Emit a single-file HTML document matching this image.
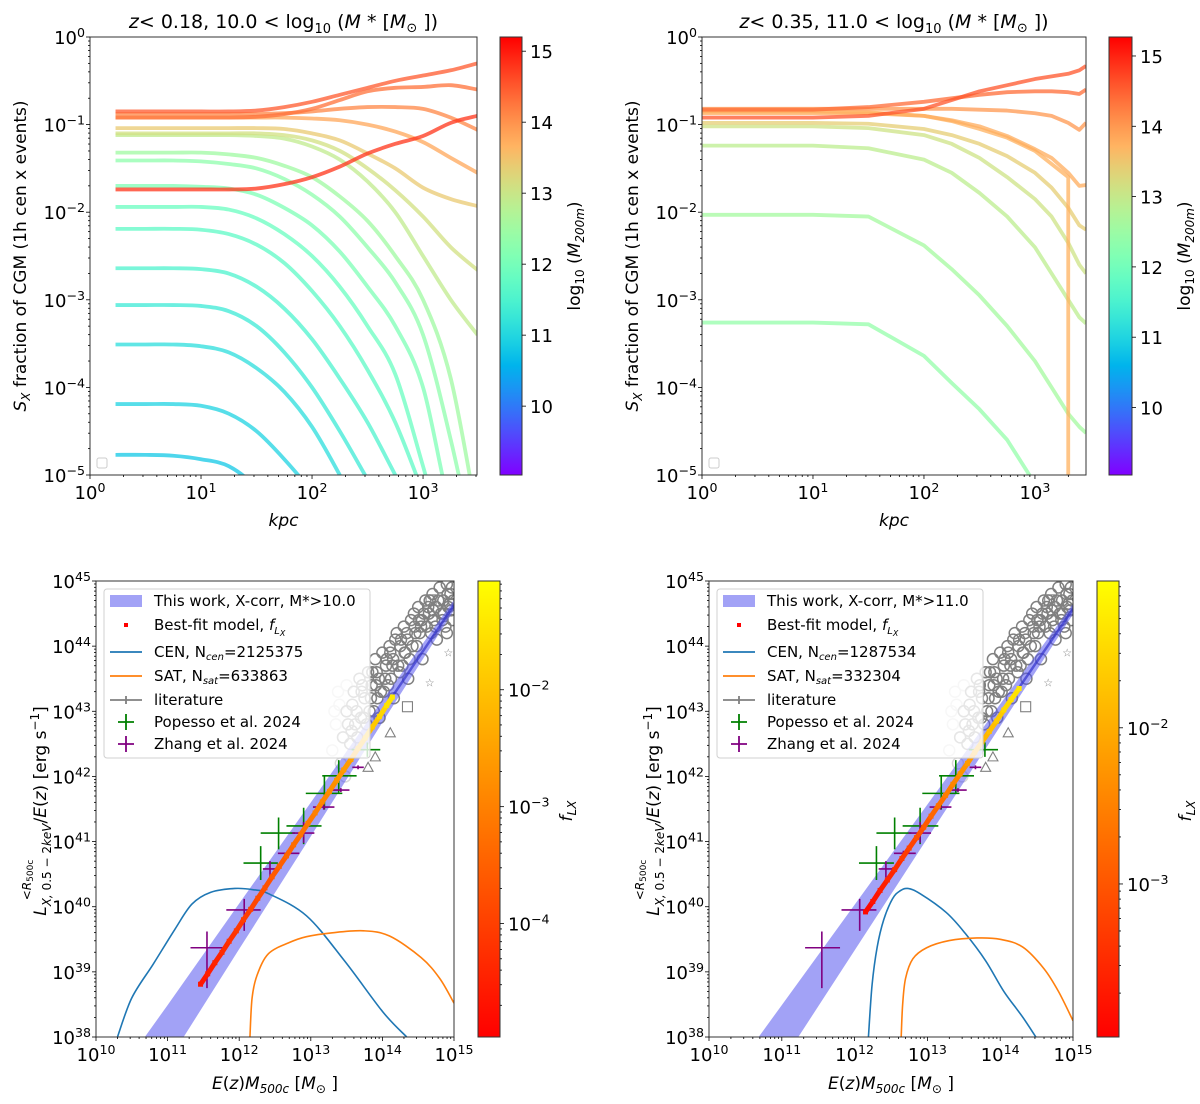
<!DOCTYPE html>
<html><head><meta charset="utf-8"><style>
html,body{margin:0;padding:0;background:#fff;}
svg{display:block;font-family:"DejaVu Sans","Liberation Sans",sans-serif;}
</style></head><body>
<svg id="fig" width="1200" height="1104" viewBox="0 0 1200 1104" xmlns="http://www.w3.org/2000/svg">
<defs>
<clipPath id="c-tl"><rect x="90" y="37" width="387" height="438"/></clipPath>
<clipPath id="c-tr"><rect x="702" y="37" width="384" height="438"/></clipPath>
<clipPath id="c-bl"><rect x="96" y="581" width="358" height="456"/></clipPath>
<clipPath id="c-br"><rect x="709" y="581" width="364" height="456"/></clipPath>
</defs>
</svg>
<script>
// ---------- TOP-LEFT data (log10 kpc grid, log10 fraction) ----------
const tlX = [0.23,0.5,0.75,1.0,1.25,1.5,1.75,2.0,2.25,2.5,2.75,3.0,3.25,3.49];
const tlMass = [10.8,10.95,11.1,11.3,11.5,11.7,11.85,12.1,12.3,12.5,12.9,13.1,13.4,13.8,14.1,14.3,14.5,14.8];
const tlY = [
 [-4.77,-4.77,-4.78,-4.82,-4.9,-5.15,-5.6,-6,-6,-6,-6,-6,-6,-6],
 [-4.19,-4.19,-4.19,-4.21,-4.3,-4.5,-4.82,-5.2,-5.7,-6,-6,-6,-6,-6],
 [-3.51,-3.51,-3.51,-3.53,-3.6,-3.78,-4.05,-4.45,-5.0,-5.6,-6,-6,-6,-6],
 [-3.06,-3.06,-3.06,-3.07,-3.13,-3.3,-3.6,-4.0,-4.5,-5.05,-5.6,-6,-6,-6],
 [-2.64,-2.64,-2.64,-2.65,-2.7,-2.85,-3.1,-3.45,-3.9,-4.4,-5.0,-5.6,-6,-6],
 [-2.19,-2.19,-2.19,-2.2,-2.25,-2.37,-2.58,-2.9,-3.3,-3.8,-4.4,-5.2,-6,-6],
 [-1.94,-1.94,-1.94,-1.94,-1.97,-2.07,-2.25,-2.5,-2.85,-3.3,-3.85,-4.9,-6,-6],
 [-1.70,-1.70,-1.70,-1.71,-1.73,-1.8,-1.95,-2.15,-2.45,-2.85,-3.3,-4.0,-5.4,-6],
 [-1.41,-1.41,-1.41,-1.42,-1.45,-1.5,-1.62,-1.8,-2.05,-2.4,-2.8,-3.4,-4.6,-6],
 [-1.32,-1.32,-1.32,-1.32,-1.34,-1.38,-1.47,-1.6,-1.82,-2.1,-2.5,-3.0,-3.9,-5.5],
 [-1.12,-1.12,-1.12,-1.12,-1.12,-1.13,-1.16,-1.25,-1.4,-1.65,-2.0,-2.5,-3.0,-3.4],
 [-1.10,-1.10,-1.10,-1.10,-1.10,-1.10,-1.12,-1.18,-1.3,-1.5,-1.75,-2.05,-2.4,-2.66],
 [-1.04,-1.04,-1.04,-1.04,-1.04,-1.04,-1.05,-1.1,-1.18,-1.33,-1.5,-1.72,-1.85,-1.93],
 [-0.92,-0.92,-0.92,-0.92,-0.92,-0.92,-0.92,-0.93,-0.95,-1.0,-1.08,-1.2,-1.38,-1.55],
 [-0.88,-0.88,-0.88,-0.88,-0.88,-0.88,-0.87,-0.85,-0.82,-0.8,-0.8,-0.82,-0.92,-1.06],
 [-0.92,-0.92,-0.92,-0.92,-0.92,-0.91,-0.88,-0.82,-0.72,-0.62,-0.58,-0.57,-0.55,-0.6],
 [-0.85,-0.85,-0.85,-0.85,-0.85,-0.84,-0.8,-0.74,-0.66,-0.58,-0.5,-0.44,-0.38,-0.3],
 [-1.74,-1.74,-1.74,-1.74,-1.74,-1.73,-1.68,-1.6,-1.48,-1.33,-1.22,-1.13,-0.98,-0.9]
];
// ---------- TOP-RIGHT data ----------
const trX = [0,0.5,1.0,1.5,2.0,2.25,2.5,2.75,3.0,3.15,3.3,3.3,3.4,3.46];
const trMass = [12.4,12.6,12.9,13.1,13.4,13.75,13.8,14.0,14.4,14.6];
const trY = [
 [-3.26,-3.26,-3.26,-3.28,-3.64,-3.95,-4.25,-4.6,-5.1,-5.5,-6,-6,-6,-6],
 [-2.03,-2.03,-2.03,-2.05,-2.38,-2.65,-2.95,-3.3,-3.7,-4.0,-4.3,-4.3,-4.45,-4.52],
 [-1.24,-1.24,-1.24,-1.27,-1.4,-1.55,-1.78,-2.05,-2.4,-2.7,-3.0,-3.0,-3.2,-3.27],
 [-1.02,-1.02,-1.02,-1.04,-1.12,-1.22,-1.38,-1.6,-1.85,-2.05,-2.35,-2.35,-2.6,-2.7],
 [-0.98,-0.98,-0.98,-0.99,-1.05,-1.12,-1.22,-1.36,-1.55,-1.72,-1.95,-1.95,-2.15,-2.2],
 [-0.85,-0.85,-0.85,-0.86,-0.9,-0.96,-1.05,-1.15,-1.3,-1.45,-1.6,-9,null,null],
 [-0.87,-0.87,-0.87,-0.87,-0.9,-0.95,-1.02,-1.13,-1.28,-1.38,-1.55,-1.55,-1.7,-1.69],
 [-0.82,-0.82,-0.82,-0.82,-0.82,-0.82,-0.83,-0.84,-0.87,-0.9,-0.98,-0.98,-1.06,-0.98],
 [-0.83,-0.83,-0.83,-0.8,-0.74,-0.7,-0.66,-0.63,-0.62,-0.62,-0.63,-0.63,-0.65,-0.6],
 [-0.92,-0.92,-0.92,-0.9,-0.82,-0.72,-0.62,-0.55,-0.48,-0.45,-0.42,-0.42,-0.38,-0.33]
];
// ---------- BOTTOM-LEFT data (log10 M, log10 L) ----------
const bandX = [10.5,11,12,13,14,15];
const blBandLo = [36.74,37.61,39.35,41.08,42.83,44.55];
const blBandHi = [37.72,38.49,40.05,41.6,43.17,44.71];
const blFitX = [11.46,11.56,11.66,11.76,11.86,11.96,12.06,12.16,12.26,12.36,12.46,12.56,12.66,12.76,12.86,12.96,13.06,13.16,13.26,13.36,13.46,13.56,13.66,13.76,13.86,13.96,14.06,14.14];
const blFitY = [38.81,38.97,39.14,39.30,39.47,39.63,39.80,39.96,40.13,40.29,40.46,40.62,40.78,40.95,41.11,41.28,41.44,41.61,41.77,41.94,42.10,42.26,42.43,42.59,42.76,42.92,43.09,43.22];
const blFitF = [-4.6,-4.5,-4.4,-4.3,-4.2,-4.1,-4.0,-3.9,-3.8,-3.7,-3.6,-3.5,-3.4,-3.3,-3.2,-3.1,-3.0,-2.9,-2.8,-2.7,-2.6,-2.5,-2.3,-2.1,-1.9,-1.7,-1.5,-1.4];
const blCenX = [10.30,10.5,10.8,11.1,11.34,11.6,11.94,12.2,12.41,12.94,13.47,14.01,14.34];
const blCenY = [38,38.6,39.12,39.65,40.04,40.22,40.28,40.26,40.2,39.86,39.17,38.38,38.0];
const blSatX = [12.15,12.18,12.25,12.41,12.7,12.94,13.3,13.74,14.1,14.54,14.8,15.0];
const blSatY = [38,38.6,38.95,39.28,39.45,39.54,39.6,39.63,39.55,39.22,38.9,38.52];
// ---------- BOTTOM-RIGHT data ----------
const brBandLo = [36.74,37.61,39.33,41.05,42.77,44.49];
const brBandHi = [37.72,38.49,40.03,41.57,43.11,44.65];
const brFitX = [12.15,12.25,12.35,12.45,12.55,12.65,12.75,12.85,12.95,13.05,13.15,13.25,13.35,13.45,13.55,13.65,13.75,13.85,13.95,14.05,14.15,14.26];
const brFitY = [39.92,40.08,40.25,40.41,40.57,40.74,40.90,41.06,41.22,41.39,41.55,41.71,41.88,42.04,42.20,42.37,42.53,42.69,42.85,43.02,43.18,43.35];
const brFitF = [-3.85,-3.75,-3.65,-3.55,-3.45,-3.3,-3.2,-3.05,-2.95,-2.8,-2.7,-2.55,-2.45,-2.3,-2.2,-2.05,-1.9,-1.8,-1.65,-1.5,-1.4,-1.3];
const brCenX = [12.19,12.24,12.31,12.4,12.52,12.62,12.73,12.9,13.26,13.52,13.8,14.05,14.3,14.49];
const brCenY = [38,38.8,39.38,39.8,40.12,40.24,40.28,40.2,39.91,39.59,39.17,38.70,38.32,38.0];
const brSatX = [12.64,12.66,12.7,12.8,12.99,13.3,13.68,14.0,14.31,14.6,14.8,15.0];
const brSatY = [38,38.5,38.9,39.2,39.37,39.48,39.52,39.5,39.38,39.05,38.7,38.25];
// ---------- observational points (shared) ----------
const popX = [12.30,12.55,12.90,13.19,13.39,13.79];
const popXlo = [12.06,12.30,12.66,12.93,13.16,13.57];
const popXhi = [12.54,12.78,13.15,13.44,13.64,13.97];
const popY = [40.67,41.13,41.24,41.74,42.01,42.41];
const popYlo = [40.41,40.88,40.96,41.49,41.75,42.30];
const popYhi = [40.93,41.37,41.52,42.01,42.25,42.52];
const zhX = [11.55,12.07,12.43,12.67,12.90,13.18,13.42,13.66];
const zhXlo = [11.32,11.82,12.33,12.54,12.74,13.03,13.30,13.58];
const zhXhi = [11.80,12.30,12.54,12.84,13.05,13.33,13.54,13.74];
const zhY = [39.37,39.95,40.58,40.82,41.13,41.53,41.79,42.14];
const zhYlo = [38.75,39.63,40.45,40.78,40.98,41.49,41.76,42.11];
const zhYhi = [39.62,40.12,40.70,40.86,41.30,41.57,41.82,42.17];
const litX = [13.45,13.5,13.55,13.6,13.62,13.68,13.7,13.75,13.8,13.82,13.85,13.9,13.93,13.95,14.0,14.02,14.05,14.1,14.12,14.15,14.2,14.22,14.25,14.3,14.32,14.35,14.4,14.42,14.45,14.5,14.52,14.55,14.6,14.62,14.65,14.7,14.72,14.75,14.8,14.82,14.85,14.9,14.92,14.95,14.98,13.65,13.78,13.88,14.08,14.28,14.48,14.68,14.88,14.9,14.96,14.76,14.56,14.36,14.16,13.96,
 13.52,13.58,13.64,13.72,13.84,13.92,13.98,14.04,14.14,14.18,14.24,14.34,14.38,14.44,14.54,14.58,14.64,14.74,14.78,14.84,14.94,14.97,13.74,13.86,14.06,14.26,14.46,14.66,14.86,14.99,13.57,13.71,13.91,14.11,14.31,14.51,14.71,14.91];
const litY = [42.6,43.0,42.5,43.3,42.8,43.5,42.9,43.2,43.6,43.0,43.4,43.8,43.2,43.5,43.9,43.3,43.7,44.0,43.5,43.8,44.2,43.7,44.0,44.3,43.9,44.1,44.4,44.0,44.3,44.6,44.2,44.4,44.7,44.3,44.5,44.8,44.4,44.6,44.9,44.5,44.7,44.95,44.6,44.8,44.4,42.6,42.8,43.0,43.4,43.7,44.0,44.2,44.3,44.2,44.55,44.1,43.8,43.5,43.2,42.9,
 42.8,43.1,43.0,43.4,43.2,43.6,43.3,43.5,43.7,44.1,43.6,44.2,43.8,44.5,44.3,44.5,44.6,44.3,44.7,44.4,44.65,44.9,42.9,43.6,43.8,44.1,44.2,44.7,44.5,44.7,42.7,43.3,43.4,43.9,43.9,44.4,44.55,44.8];
const litFadeX = [13.3,13.35,13.4,13.45,13.5,13.38,13.42,13.33,13.48];
const litFadeY = [42.4,42.8,43.1,42.6,43.4,43.3,42.2,43.0,42.0];
const litTriX = [14.11,13.8,13.9], litTriY = [42.67,42.14,42.3];
const litSqX = [14.35,14.68], litSqY = [43.07,44.71];
const litStarX = [14.66,14.92], litStarY = [43.44,43.9];

// ---------- helpers ----------
const NS = 'http://www.w3.org/2000/svg';
const svg = document.getElementById('fig');
function mk(tag, attrs, parent){ const e=document.createElementNS(NS,tag); for(const k in attrs) e.setAttribute(k,attrs[k]); (parent||svg).appendChild(e); return e; }
function rainbow(t){ t=Math.max(0,Math.min(1,t)); const r=Math.min(1,Math.abs(2*t-0.5)), g=Math.sin(Math.PI*t), b=Math.cos(Math.PI*t/2); return `rgb(${Math.round(r*255)},${Math.round(g*255)},${Math.round(b*255)})`; }
function autumn(t){ t=Math.max(0,Math.min(1,t)); return `rgb(255,${Math.round(t*255)},0)`; }
function scaler(a0,a1,p0,p1){ return v=>p0+(v-a0)/(a1-a0)*(p1-p0); }
function supText(parent,x,y,base,exp,anchor,size){
  const t=mk('text',{x:x,y:y,'font-size':size||16,'text-anchor':anchor||'middle',fill:'#000'},parent);
  t.appendChild(document.createTextNode(base));
  const s=mk('tspan',{dy:-7,'font-size':(size||16)*0.7},t); s.textContent=exp; return t;
}
function axes(P){
  const g=mk('g',{});
  
  
  mk('rect',{x:P.x0,y:P.y0,width:P.x1-P.x0,height:P.y1-P.y0,fill:'none',stroke:'#333',"stroke-width":1},g);
  for(let d=Math.floor(P.xmin); d<=Math.ceil(P.xmax); d++){
    for(let k=1;k<10;k++){ const v=d+Math.log10(k); if(v<P.xmin-1e-6||v>P.xmax+1e-6) continue;
      const X=P.sx(v); mk('line',{x1:X,x2:X,y1:P.y1,y2:P.y1+(k==1?4:2),stroke:'#000','stroke-width':0.8},g);
      if(k==1){ const t=supText(g,X,P.y1+24,'10',String(d).replace('-','−'),'middle',18);
          } }
  }
  for(let d=Math.floor(P.ymin); d<=Math.ceil(P.ymax); d++){
    for(let k=1;k<10;k++){ const v=d+Math.log10(k); if(v<P.ymin-1e-6||v>P.ymax+1e-6) continue;
      const Y=P.sy(v); mk('line',{x1:P.x0,x2:P.x0-(k==1?4:2),y1:Y,y2:Y,stroke:'#000','stroke-width':0.8},g);
      if(k==1){ const t=supText(g,P.x0-5,Y+7,'10',String(d).replace('-','−'),'end',18);
          } }
  }
}
function path(pts){ let s='',pen=false; for(const p of pts){ if(p==null){pen=false;continue;} s+=(pen?'L':'M')+p[0].toFixed(2)+' '+p[1].toFixed(2); pen=true;} return s; }
function smooth(pts){ // Catmull-Rom through the data points
  let s='M'+pts[0][0].toFixed(2)+' '+pts[0][1].toFixed(2);
  for(let i=0;i<pts.length-1;i++){
    const p0=pts[Math.max(0,i-1)],p1=pts[i],p2=pts[i+1],p3=pts[Math.min(pts.length-1,i+2)];
    const c1=[p1[0]+(p2[0]-p0[0])/6,p1[1]+(p2[1]-p0[1])/6], c2=[p2[0]-(p3[0]-p1[0])/6,p2[1]-(p3[1]-p1[1])/6];
    s+=`C${c1[0].toFixed(2)} ${c1[1].toFixed(2)} ${c2[0].toFixed(2)} ${c2[1].toFixed(2)} ${p2[0].toFixed(2)} ${p2[1].toFixed(2)}`;
  } return s;
}

// ---------- top panels ----------
function topPanel(P, X, Ys, M, cb, title1, title2){
  P.sx=scaler(P.xmin,P.xmax,P.x0,P.x1); P.sy=scaler(P.ymin,P.ymax,P.y1,P.y0);
  const g=mk('g',{'clip-path':`url(#${P.clip})`});
  
  
  Ys.forEach((ys,i)=>{
    const pts=X.map((x,j)=> ys[j]==null?null:[P.sx(x),P.sy(ys[j])]);
    const hasDup=X.some((x,j)=>j>0&&X[j-1]===x);
    const d=hasDup?path(pts):smooth(pts.filter(p=>p));
    const e=mk('path',{d:d,fill:'none',stroke:rainbow((M[i]-cb.vmin)/(cb.vmax-cb.vmin)),'stroke-width':3.8,'stroke-opacity':0.75,'stroke-linejoin':'round'},g);
    
    
  });
  axes(P);
  const lg=mk('rect',{x:P.x0+7,y:P.y1-17,width:10,height:10,rx:2,fill:'#fff',stroke:'#ccc'});
  
  
  const t=mk('text',{x:(P.x0+P.x1)/2,y:28,'font-size':19,'text-anchor':'middle'});
  
  
  t.innerHTML=`<tspan font-style="italic">z</tspan>&lt; ${title1}, ${title2} &lt; log<tspan font-size="13" dy="5">10</tspan><tspan dy="-5"> (</tspan><tspan font-style="italic">M</tspan> * [<tspan font-style="italic">M</tspan><tspan font-size="13" dy="4">⊙</tspan><tspan dy="-4"> ])</tspan>`;
  const yl=mk('text',{transform:`translate(${P.x0-64},256) rotate(-90)`,'font-size':17,'text-anchor':'middle'});
  
  
  yl.innerHTML='<tspan font-style="italic">S</tspan><tspan font-size="12" dy="4" font-style="italic">X</tspan><tspan dy="-4"> fraction of CGM (1h cen x events)</tspan>';
  const xl=mk('text',{x:(P.x0+P.x1)/2,y:526,'font-size':17,'text-anchor':'middle','font-style':'italic'});
  
  
  xl.textContent='kpc';
  const gid='grad-'+P.name;
  const lgd=mk('linearGradient',{id:gid,x1:0,y1:1,x2:0,y2:0},svg.querySelector('defs'));
  for(let i=0;i<=20;i++) mk('stop',{offset:i/20,'stop-color':rainbow(i/20)},lgd);
  const cbr=mk('rect',{x:cb.x0,y:P.y0,width:cb.x1-cb.x0,height:P.y1-P.y0,fill:`url(#${gid})`,stroke:'#333','stroke-width':1});
  
  
  const cs=scaler(cb.vmin,cb.vmax,P.y1,P.y0);
  for(let v=10; v<=15; v++){ const Y=cs(v);
    mk('line',{x1:cb.x1,x2:cb.x1+4,y1:Y,y2:Y,stroke:'#000','stroke-width':0.8});
    const tl=mk('text',{x:cb.x1+8,y:Y+7,'font-size':18}); tl.textContent=v;
    
     }
  const cl=mk('text',{transform:`translate(${cb.x1+58},256) rotate(-90)`,'font-size':17,'text-anchor':'middle'});
  
  
  cl.innerHTML='log<tspan font-size="12" dy="4">10</tspan><tspan dy="-4"> (</tspan><tspan font-style="italic">M</tspan><tspan font-size="12" dy="4" font-style="italic">200m</tspan><tspan dy="-4">)</tspan>';
}
topPanel({name:'top-left',x0:90,x1:477,y0:37,y1:475,xmin:0,xmax:3.486,ymin:-5,ymax:0,clip:'c-tl'},tlX,tlY,tlMass,{x0:500,x1:522,vmin:9.03,vmax:15.2},'0.18','10.0');
topPanel({name:'top-right',x0:702,x1:1086,y0:37,y1:475,xmin:0,xmax:3.46,ymin:-5,ymax:0,clip:'c-tr'},trX,trY,trMass,{x0:1109,x1:1132,vmin:9.04,vmax:15.27},'0.35','11.0');

// ---------- bottom panels ----------
function botPanel(P, D, cb, mstar, ncen, nsat){
  P.sx=scaler(P.xmin,P.xmax,P.x0,P.x1); P.sy=scaler(P.ymin,P.ymax,P.y1,P.y0);
  const sx=P.sx, sy=P.sy;
  const g=mk('g',{'clip-path':`url(#${P.clip})`});
  
  
  const lit=mk('g',{fill:'none',stroke:'#808080','stroke-width':1.5},g);
  
  
  litFadeX.forEach((x,i)=>{ const c=mk('circle',{cx:sx(x),cy:sy(litFadeY[i]),r:5.5,stroke:'#d8d8d8'},lit);
    
     });
  litX.forEach((x,i)=>{ const c=mk('circle',{cx:sx(x),cy:sy(litY[i]),r:5.5},lit);
    
     });
  litTriX.forEach((x,i)=>{ const X=sx(x),Y=sy(litTriY[i]); const c=mk('path',{d:`M${X} ${Y-5}L${X+5} ${Y+4}L${X-5} ${Y+4}Z`,'stroke-width':1.1},lit);
    
     });
  litSqX.forEach((x,i)=>{ const c=mk('rect',{x:sx(x)-5,y:sy(litSqY[i])-5,width:10,height:10,'stroke-width':1.1},lit);
    
     });
  litStarX.forEach((x,i)=>{ const c=mk('text',{x:sx(x),y:sy(litStarY[i])+4,'font-size':11,'text-anchor':'middle',fill:'#808080',stroke:'none'},lit);
    c.textContent='☆';
    
     });
  const up=bandX.map((x,i)=>[sx(x),sy(D.hi[i])]), lo=bandX.map((x,i)=>[sx(x),sy(D.lo[i])]).reverse();
  const band=mk('path',{d:path(up.concat(lo))+'Z',fill:'#5555ee','fill-opacity':0.55,stroke:'none'},g);
  
  
  const bl=mk('path',{d:path(bandX.slice(3).map((x,i)=>[sx(x),sy((D.hi[i+3]+D.lo[i+3])/2)])),stroke:'#3333cc','stroke-width':2.5,'stroke-opacity':0.7,fill:'none'},g);
  
  
  const cen=mk('path',{d:smooth(D.cenX.map((x,i)=>[sx(x),sy(D.cenY[i])])),stroke:'#1f77b4','stroke-width':1.6,fill:'none'},g);
  
  
  const sat=mk('path',{d:smooth(D.satX.map((x,i)=>[sx(x),sy(D.satY[i])])),stroke:'#ff7f0e','stroke-width':1.6,fill:'none'},g);
  
  
  function crosses(X,Xlo,Xhi,Y,Ylo,Yhi,col,name){
    X.forEach((x,i)=>{ const c=mk('path',{d:`M${sx(Xlo[i])} ${sy(Y[i])}H${sx(Xhi[i])}M${sx(x)} ${sy(Ylo[i])}V${sy(Yhi[i])}`,stroke:col,'stroke-width':1.6,fill:'none'},g);
      
       });
  }
  crosses(popX,popXlo,popXhi,popY,popYlo,popYhi,'#008000','popesso-point');
  crosses(zhX,zhXlo,zhXhi,zhY,zhYlo,zhYhi,'#800080','zhang-point');
  const cnorm=v=>(v-cb.vmin)/(cb.vmax-cb.vmin);
  for(let i=0;i<D.fitX.length-1;i++){
    const s=mk('line',{x1:sx(D.fitX[i]),y1:sy(D.fitY[i]),x2:sx(D.fitX[i+1]),y2:sy(D.fitY[i+1]),stroke:autumn(cnorm(D.fitF[i])),'stroke-width':5},g);
    
    
  }
  D.fitX.forEach((x,i)=>{ const r=mk('rect',{x:sx(x)-2.5,y:sy(D.fitY[i])-2.5,width:5,height:5,fill:autumn(cnorm(D.fitF[i]))},g);
    
     });
  axes(P);
  const L=mk('g',{});
  
  
  const lx=P.x0+8;
  mk('rect',{x:lx,y:589,width:266,height:169,rx:3,fill:'#fff','fill-opacity':0.8,stroke:'#d0d0d0'},L);
  const hx=lx+6, tx=lx+58, rows=[601,625,652,676,700,722,744];
  mk('rect',{x:hx,y:rows[0]-6,width:32,height:12,fill:'#5555ee','fill-opacity':0.55},L);
  mk('rect',{x:hx+14,y:rows[1]-2,width:4,height:4,fill:'red'},L);
  mk('line',{x1:hx,x2:hx+32,y1:rows[2],y2:rows[2],stroke:'#1f77b4','stroke-width':1.8},L);
  mk('line',{x1:hx,x2:hx+32,y1:rows[3],y2:rows[3],stroke:'#ff7f0e','stroke-width':1.8},L);
  mk('path',{d:`M${hx} ${rows[4]}H${hx+32}M${hx+16} ${rows[4]-4}V${rows[4]+4}`,stroke:'#808080','stroke-width':1.8},L);
  mk('path',{d:`M${hx+8} ${rows[5]}H${hx+24}M${hx+16} ${rows[5]-8}V${rows[5]+8}`,stroke:'#008000','stroke-width':1.8},L);
  mk('path',{d:`M${hx+8} ${rows[6]}H${hx+24}M${hx+16} ${rows[6]-8}V${rows[6]+8}`,stroke:'#800080','stroke-width':1.8},L);
  const texts=[`This work, X-corr, M*&gt;${mstar}`,'Best-fit model, <tspan font-style="italic">f</tspan><tspan font-size="10" dy="4" font-style="italic">L</tspan><tspan font-size="8" dy="2" font-style="italic">X</tspan>',
    `CEN, N<tspan font-size="10" dy="3" font-style="italic">cen</tspan><tspan dy="-3">=${ncen}</tspan>`,`SAT, N<tspan font-size="10" dy="3" font-style="italic">sat</tspan><tspan dy="-3">=${nsat}</tspan>`,'literature','Popesso et al. 2024','Zhang et al. 2024'];
  texts.forEach((s,i)=>{ const t=mk('text',{x:tx-8,y:rows[i]+5,'font-size':15},L); t.innerHTML=s;
    
     });
  const xl=mk('text',{x:(P.x0+P.x1)/2,y:1089,'font-size':17,'text-anchor':'middle'});
  
  
  xl.innerHTML='<tspan font-style="italic">E</tspan>(<tspan font-style="italic">z</tspan>)<tspan font-style="italic">M</tspan><tspan font-size="12" dy="4" font-style="italic">500c</tspan><tspan dy="-4"> [</tspan><tspan font-style="italic">M</tspan><tspan font-size="12" dy="4">⊙</tspan><tspan dy="-4"> ]</tspan>';
  const yl=mk('text',{transform:`translate(${P.x0-50},811) rotate(-90)`,'font-size':17,'text-anchor':'middle'});
  
  
  yl.innerHTML='<tspan font-style="italic">L</tspan><tspan font-size="12" dy="5" font-style="italic">X,</tspan><tspan font-size="12"> 0.5 − 2</tspan><tspan font-size="12" font-style="italic">keV</tspan><tspan dy="-5">/</tspan><tspan font-style="italic">E</tspan>(<tspan font-style="italic">z</tspan>) [erg s<tspan font-size="12" dy="-7">−1</tspan><tspan dy="7">]</tspan>';
  const ys=mk('text',{transform:`translate(${P.x0-65},880) rotate(-90)`,'font-size':12,'text-anchor':'middle'});
  
  
  ys.innerHTML='&lt;<tspan font-style="italic">R</tspan><tspan font-size="9" dy="2">500c</tspan>';
  const gid='grad-'+P.name;
  const lgd=mk('linearGradient',{id:gid,x1:0,y1:1,x2:0,y2:0},svg.querySelector('defs'));
  mk('stop',{offset:0,'stop-color':'#ff0000'},lgd); mk('stop',{offset:1,'stop-color':'#ffff00'},lgd);
  const cbr=mk('rect',{x:cb.x0,y:P.y0,width:cb.x1-cb.x0,height:P.y1-P.y0,fill:`url(#${gid})`,stroke:'#333','stroke-width':1});
  
  
  const cs=scaler(cb.vmin,cb.vmax,P.y1,P.y0);
  for(let d=Math.floor(cb.vmin); d<=Math.ceil(cb.vmax); d++){
    for(let k=1;k<10;k++){ const v=d+Math.log10(k); if(v<cb.vmin||v>cb.vmax) continue; const Y=cs(v);
      mk('line',{x1:cb.x1,x2:cb.x1+(k==1?4:2),y1:Y,y2:Y,stroke:'#000','stroke-width':0.8});
      if(k==1){ const t=supText(svg,cb.x1+8,Y+7,'10','−'+(-d),'start',18);
        
         } }
  }
  const cl=mk('text',{transform:`translate(${cb.x1+72},811) rotate(-90)`,'font-size':17,'text-anchor':'middle'});
  
  
  cl.innerHTML='<tspan font-style="italic">f</tspan><tspan font-size="12" dy="4" font-style="italic">LX</tspan>';
}
botPanel({name:'bottom-left',x0:96,x1:454,y0:581,y1:1037,xmin:10,xmax:15,ymin:38,ymax:45,clip:'c-bl'},
  {lo:blBandLo,hi:blBandHi,fitX:blFitX,fitY:blFitY,fitF:blFitF,cenX:blCenX,cenY:blCenY,satX:blSatX,satY:blSatY},
  {x0:478,x1:500,vmin:-4.97,vmax:-1.07},'10.0','2125375','633863');
botPanel({name:'bottom-right',x0:709,x1:1073,y0:581,y1:1037,xmin:10,xmax:15,ymin:38,ymax:45,clip:'c-br'},
  {lo:brBandLo,hi:brBandHi,fitX:brFitX,fitY:brFitY,fitF:brFitF,cenX:brCenX,cenY:brCenY,satX:brSatX,satY:brSatY},
  {x0:1097,x1:1119,vmin:-3.98,vmax:-1.06},'11.0','1287534','332304');
</script>
</body></html>
